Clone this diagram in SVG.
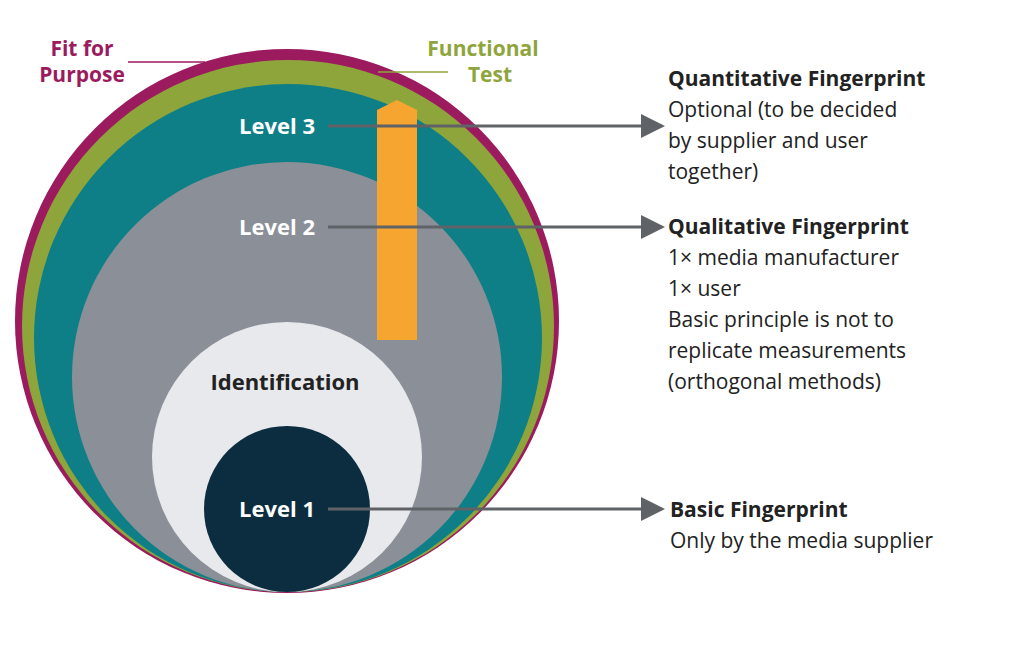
<svg xmlns="http://www.w3.org/2000/svg" width="1024" height="645" viewBox="0 0 1024 645">
<defs>
<style>
text{font-family:"Open Sans","Liberation Sans",sans-serif;font-size:21px;fill:#222}
.b{font-weight:bold}
.w{fill:#fff;font-weight:bold;font-size:22px}
.c{stroke:#5f6266;stroke-width:3;fill:none;marker-end:url(#a)}
</style>
<marker id="a" markerWidth="8" markerHeight="8" refX="7" refY="4" orient="auto" markerUnits="strokeWidth"><path d="M0,0L8,4L0,8z" fill="#5f6266"/></marker>
</defs>
<rect width="1024" height="645" fill="#fff"/>
<g id="fit"><circle cx="287" cy="321" r="272" fill="#9b1b5e"/></g>
<g id="functional"><circle cx="288" cy="326" r="266" fill="#8ea53c"/></g>
<g id="level3"><circle cx="288" cy="338" r="254" fill="#0e7f87"/></g>
<g id="level2"><circle cx="287" cy="377" r="215" fill="#8a8f98"/></g>
<g id="identification"><circle cx="287" cy="457" r="135" fill="#e8e9ec"/><text x="285" y="390" text-anchor="middle" class="b" style="font-size:22px">Identification</text></g>
<g id="level1"><circle cx="287" cy="509" r="83" fill="#0c2d40"/></g>
<g id="bar"><path d="M377,110L397,100L417,110L417,340L377,340z" fill="#f7a531"/></g>
<g id="connectors">
<path class="c" d="M328,126H662"/>
<path class="c" d="M328,227H662"/>
<path class="c" d="M328,509H662"/>
<path d="M128,62H205" stroke="#9b1b5e" stroke-width="1.5"/>
<path d="M378,72H448" stroke="#8ea53c" stroke-width="1.5"/>
</g>
<text x="277" y="134" text-anchor="middle" class="w">Level 3</text>
<text x="277" y="235" text-anchor="middle" class="w">Level 2</text>
<text x="277" y="517" text-anchor="middle" class="w">Level 1</text>
<g id="fitlabel" class="b"><text x="82" y="56" text-anchor="middle" class="b" style="fill:#9b1b5e">Fit for</text><text x="82" y="82" text-anchor="middle" class="b" style="fill:#9b1b5e">Purpose</text></g>
<g id="funclabel"><text x="483" y="56" text-anchor="middle" class="b" style="fill:#8ea53c">Functional</text><text x="490" y="82" text-anchor="middle" class="b" style="fill:#8ea53c">Test</text></g>
<g id="q3"><text x="668" y="86" class="b">Quantitative Fingerprint</text><text x="668" y="117">Optional (to be decided</text><text x="668" y="148">by supplier and user</text><text x="668" y="179">together)</text></g>
<g id="q2"><text x="668" y="234" class="b">Qualitative Fingerprint</text><text x="668" y="265">1× media manufacturer</text><text x="668" y="296">1× user</text><text x="668" y="327">Basic principle is not to</text><text x="668" y="358">replicate measurements</text><text x="668" y="389">(orthogonal methods)</text></g>
<g id="q1"><text x="670" y="517" class="b">Basic Fingerprint</text><text x="670" y="548">Only by the media supplier</text></g>
</svg>
